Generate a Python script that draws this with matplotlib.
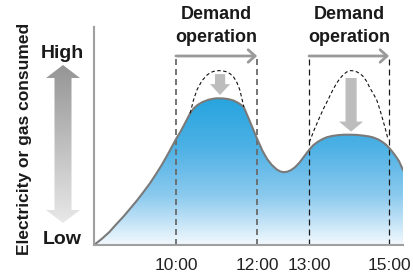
import numpy as np
import matplotlib
matplotlib.use("Agg")
import matplotlib.pyplot as plt
from matplotlib.patches import Polygon, FancyArrow
from matplotlib.colors import LinearSegmentedColormap

plt.rcParams['font.family'] = ['Liberation Sans', 'DejaVu Sans']
plt.rcParams['lines.scale_dashes'] = False

# ---- data (schematic units: x = position along time axis 0..100, y = consumption 0..100) ----
tick_labels = ["10:00", "12:00", "13:00", "15:00"]
tick_pos = [26.5, 52.8, 69.6, 95.5]

curve_x = [0, 2.5, 5, 7, 9.5, 12, 14, 16, 18.1, 20, 22, 24, 26.5, 28, 29.5, 31.1, 32.3, 33.5, 35,
           37, 39, 40.2, 42, 43.5, 45.1, 46.5, 47.5, 48.5,
           50.5, 52.7, 54.5, 56, 57.5, 59, 60.2, 61.3, 62.5, 63.7, 65, 66.5, 68, 69.7, 71, 72.5,
           74, 75.3, 77, 79, 81, 82.8, 85, 87, 89, 90.4, 92, 93.3, 94.5, 95.6, 96.7, 97.7, 98.7, 100]
curve_y = [0, 2.8, 6, 9.2, 13, 17.2, 20.6, 24.3, 28.3, 32.4, 36.9, 41.9, 48.5, 52.0, 56.0, 60.4,
           62.7, 64.2, 65.5, 66.6, 67.2, 67.3, 67.2, 66.9, 66.3, 65.3, 64.4, 63.2,
           56.5, 49.0, 43.3, 39.5, 36.8, 34.8, 33.8, 33.4, 33.6, 34.3, 35.6, 37.8, 40.6, 43.8,
           45.8, 47.4, 48.6, 49.4, 50.0, 50.4, 50.6, 50.6, 50.5, 50.2, 49.8, 49.3, 48.4, 47.3,
           46.0, 44.4, 42.5, 40.6, 38.5, 34.4]

peak1_x = [31.1, 32.2, 33.3, 34.9, 36.6, 37.6, 38.6, 39.7, 40.8, 41.9, 43.0, 44.1, 45.1, 46.2, 47.2, 48.5]
peak1_y = [60.4, 66.5, 71.1, 75.3, 78.0, 79.0, 79.6, 79.9, 80.0, 79.8, 79.4, 78.5, 77.2, 74.7, 71.1, 63.3]
peak2_x = [69.7, 71.4, 73.1, 74.4, 75.7, 77.1, 78.5, 79.6, 80.6, 81.7, 82.8, 84.0, 85.1, 86.2, 87.2,
           88.3, 89.3, 90.4, 91.5, 92.5, 93.5, 94.4, 95.2]
peak2_y = [47.2, 53.3, 58.9, 62.9, 66.5, 70.6, 74.2, 76.4, 78.0, 79.3, 80.0, 79.9, 79.4, 78.5, 77.2,
           74.9, 72.0, 69.4, 66.5, 62.2, 57.3, 52.7, 48.2]

windows = [(26.5, 52.8), (69.6, 95.5)]
window_title = "Demand\noperation"
reduction_x = [40.8, 83.2]
reduction_from = [78.4, 76.6]
reduction_to = [68.8, 52.0]

W, H = 414, 274
fig = plt.figure(figsize=(W / 100, H / 100), dpi=100)

# overlay axes in pixel coordinates for decorations outside the plot area
ov = fig.add_axes([0, 0, 1, 1], zorder=0)
ov.set_xlim(0, W)
ov.set_ylim(H, 0)
ov.axis('off')

ax = fig.add_axes([94 / W, (H - 245) / H, 309 / W, 218 / H], zorder=1)
ax.patch.set_alpha(0)
ax.set_xlim(0, 100)
ax.set_ylim(0, 100)

# gradient area
cmap = LinearSegmentedColormap.from_list("g", ["#f3f9fe", "#8ccaee", "#4db1e5", "#27a4df"])
grad = np.linspace(0, 1, 256).reshape(-1, 1)
im = ax.imshow(grad, extent=[0, 100, 0, 67.3], origin='lower', aspect='auto', cmap=cmap, zorder=1)
poly = Polygon(list(zip(curve_x, curve_y)) + [(100, 0), (0, 0)], closed=True,
               facecolor='none', edgecolor='none', transform=ax.transData)
ax.add_patch(poly)
im.set_clip_path(poly)
ax.plot(curve_x, curve_y, color='#7a7a7a', lw=1.5, zorder=3, solid_joinstyle='round')

# hypothetical peaks (dashed)
for px_, py_ in [(peak1_x, peak1_y), (peak2_x, peak2_y)]:
    ax.plot(px_, py_, color='#111111', lw=0.8, linestyle=(0, (2.5, 1.8)), zorder=3)

# windows
bracket_y = 86.7
styles = [dict(color='#6a6a6a', lw=1.3), dict(color='#1a1a1a', lw=0.9)]
for (x0, x1), st, cx in zip(windows, styles, [216, 349]):
    for xv in (x0, x1):
        ax.plot([xv, xv], [0, bracket_y], linestyle=(0, (4.3, 2.9)), zorder=2, clip_on=False, **st)
    ax.annotate("", xy=(x1, bracket_y), xytext=(x0, bracket_y), annotation_clip=False,
                arrowprops=dict(arrowstyle="->,head_length=0.5,head_width=0.45",
                                color='#9a9a9a', lw=2, shrinkA=0, shrinkB=0))
    ov.text(cx, 26, window_title, ha='center', va='center', fontsize=13, fontweight='bold',
            color='#1a1a1a', linespacing=1.4)

# reduction arrows
for xv, y0, y1, sw, hw, hl in zip(reduction_x, reduction_from, reduction_to,
                                  [3.3, 3.6], [6.5, 7.8], [5.0, 4.6]):
    ax.add_patch(FancyArrow(xv, y0, 0, y1 - y0, width=sw, head_width=hw, head_length=hl,
                            length_includes_head=True, color='#bdbdbd', lw=0, zorder=4))

# axes spines
for s in ['top', 'right']:
    ax.spines[s].set_visible(False)
for s in ['left', 'bottom']:
    ax.spines[s].set_color('#a0a0a0')
    ax.spines[s].set_linewidth(1.5)
    ax.spines[s].set_zorder(5)
ax.set_yticks([])
ax.set_xticks(tick_pos)
ax.set_xticklabels(tick_labels, fontsize=12.5, color='#222222')
ax.tick_params(axis='x', length=0, pad=9)

# left high/low arrow with gradient
arrow_pts = [(63, 65), (80, 78), (71.5, 78), (71.5, 210), (80, 210), (63, 223),
             (46, 210), (54.5, 210), (54.5, 78), (46, 78)]
ap = Polygon(arrow_pts, closed=True, facecolor='none', edgecolor='none')
ov.add_patch(ap)
gcm = LinearSegmentedColormap.from_list("a", ["#959595", "#e8e8e8"])
aim = ov.imshow(grad, extent=[46, 80, 223, 65], origin='lower', aspect='auto', cmap=gcm.reversed())
aim.set_clip_path(ap)
ov.set_xlim(0, W)
ov.set_ylim(H, 0)
ov.text(62, 53, "High", ha='center', va='center', fontsize=14, fontweight='bold', color='#1a1a1a')
ov.text(62, 240, "Low", ha='center', va='center', fontsize=14, fontweight='bold', color='#1a1a1a')
ov.text(25, 139, "Electricity or gas consumed", ha='center', va='center', rotation=90,
        fontsize=12.5, fontweight='bold', color='#1a1a1a')

fig.savefig("out.png", dpi=100)
